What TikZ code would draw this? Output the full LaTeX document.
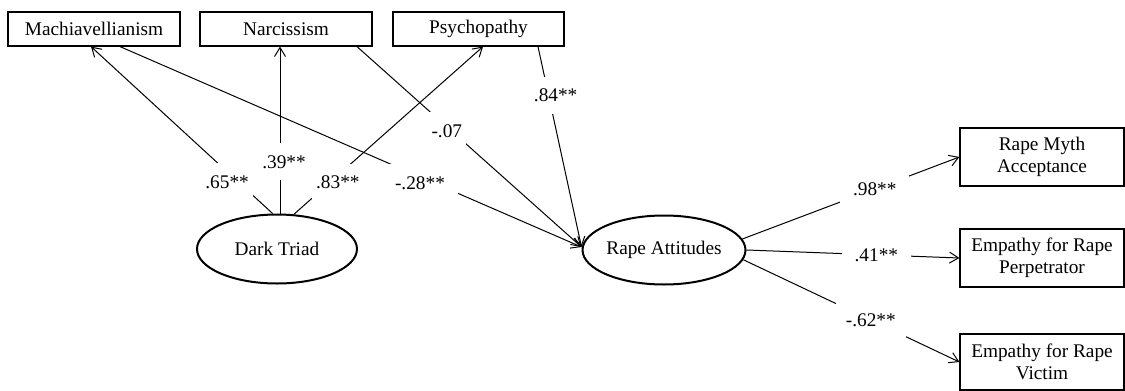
\documentclass[tikz,border=0pt]{standalone}
\usepackage{fontspec}
\setmainfont{Liberation Serif}
\usetikzlibrary{shapes.geometric,arrows.meta}
\begin{document}
\begin{tikzpicture}[x=1pt, y=-1pt, font=\fontsize{19.3}{22.5}\selectfont,
  >={Straight Barb[length=9pt,width=11pt]},
  obs/.style = {draw, line width=1.2pt, inner sep=0pt, minimum height=34pt, minimum width=172pt},
  ind/.style = {draw, line width=1.2pt, inner sep=0pt, minimum height=58pt, minimum width=164pt, align=center},
  lat/.style = {draw, ellipse, line width=2pt, inner sep=0pt, minimum width=160pt, minimum height=69pt},
  reg/.style = {->, line width=1pt},
  coef/.style = {fill=white, inner xsep=4pt, inner ysep=12pt},
  wide/.style = {inner xsep=13pt}]
			\useasboundingbox (0,0) rectangle (1125,391);
			\node[obs] (mach) at (94,29) {Machiavellianism};
			\node[obs] (narc) at (286,29) {Narcissism};
			\node[obs, minimum width=171pt] (psy) at (478.5,29) {Psychopathy};
			\node[lat] (dt) at (277,249) {Dark Triad};
			\node[lat] (ra) at (664,250) {Rape Attitudes};
			\node[ind] (rma) at (1042,157) {Rape Myth\\Acceptance};
			\node[ind] (erp) at (1042,258) {Empathy for Rape\\Perpetrator};
			\node[ind, minimum height=56pt] (erv) at (1042,362) {Empathy for Rape\\Victim};
			\draw[reg] (dt.97) -- ([xshift=-3pt]mach.south) node[coef, pos=0.19, xshift=-11pt] {.65**};
			\draw[reg] ([xshift=3pt]dt.north) -- ([xshift=-6pt]narc.south) node[coef, pos=0.31, xshift=4pt] {.39**};
			\draw[reg] (dt.64) -- ([xshift=4.5pt]psy.south) node[coef, pos=0.19, xshift=8pt] {.83**};
			\draw[reg] ([xshift=26pt]mach.south) -- ([yshift=3pt]ra.west) node[coef, wide, pos=0.65, yshift=-6pt] {-.28**};
			\draw[reg] ([xshift=71pt]narc.south) -- ([yshift=3pt]ra.west) node[coef, pos=0.40, yshift=-4pt] {-.07};
			\draw[reg] ([xshift=59.5pt]psy.south) -- ([yshift=3pt]ra.west) node[coef, pos=0.245, xshift=7pt] {.84**};
			\draw[reg] (ra.8) -- (rma.west) node[coef, wide, pos=0.61] {.98**};
			\draw[reg] (ra.east) -- (erp.west) node[coef, wide, pos=0.61] {.41**};
			\draw[reg] (ra.-7) -- (erv.west) node[coef, inner xsep=10pt, pos=0.59] {-.62**};
		\end{tikzpicture}
\end{document}
